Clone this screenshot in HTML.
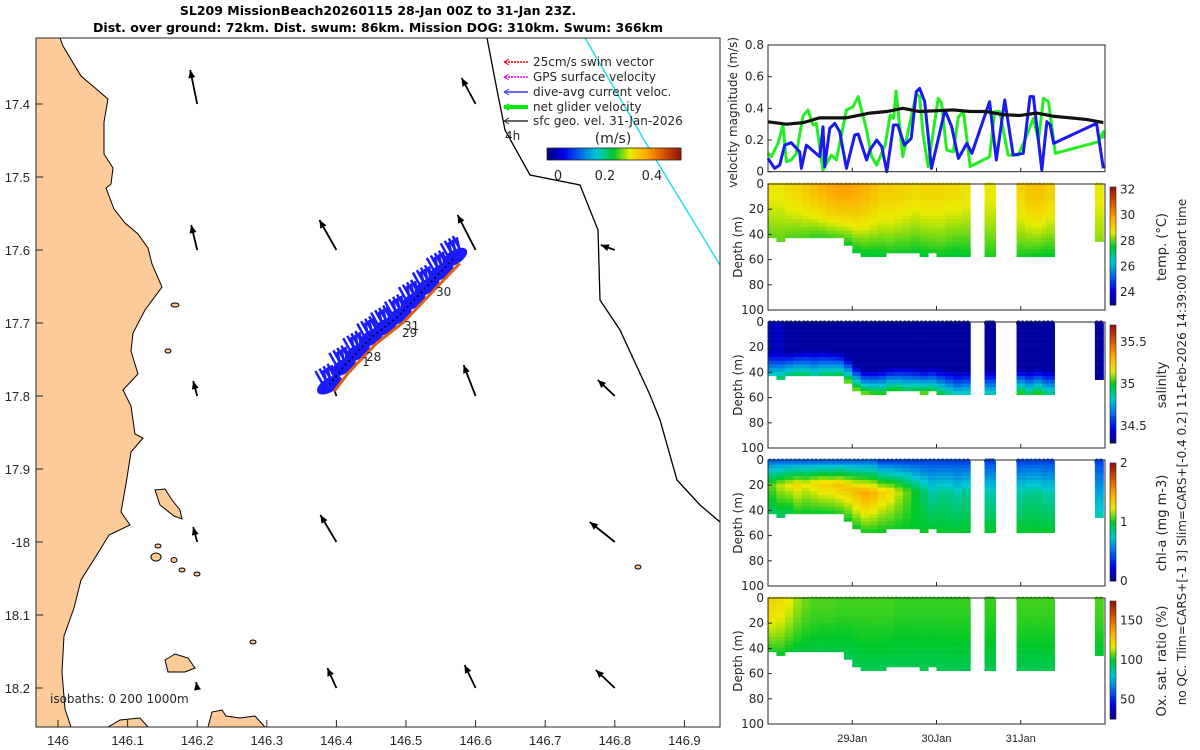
<!DOCTYPE html>
<html><head><meta charset="utf-8">
<style>
body{margin:0;background:#fff;}
svg{display:block;font-family:"DejaVu Sans","Liberation Sans",sans-serif;}
.t{font-size:12px;fill:#262626;}
</style></head>
<body>
<svg id="fig" width="1200" height="750" viewBox="0 0 1200 750">
<defs></defs>
<text x="378" y="15" text-anchor="middle" font-weight="bold" font-size="12.5">SL209 MissionBeach20260115 28-Jan 00Z to 31-Jan 23Z.</text>
<text x="378" y="32" text-anchor="middle" font-weight="bold" font-size="12.5">Dist. over ground: 72km. Dist. swum: 86km. Mission DOG: 310km. Swum: 366km</text>
<g id="map">
<rect x="36" y="38" width="684" height="689" fill="#fff"/>
<polygon fill="#fccb99" stroke="#000" stroke-width="1" points="36,38 60,38 63,46 81,76 108,99 104,122 104,154 113,168 111,184 106,188 114,209 125,223 138,234 148,248 152,264 162,287 145,310 133,333 131,351 138,374 123,390 131,406 135,434 143,438 131,452 126,484 121,512 130,525 109,535 98,553 81,580 74,608 64,636 62,672 65,709 71,727 36,727"/>
<g fill="#fccb99" stroke="#000" stroke-width="1">
<polygon points="155,490 165,489 172,500 180,510 182,519 174,516 160,505"/>
<polygon points="165,660 175,654 188,658 195,668 185,672 168,672"/>
<polygon points="108,727 120,720 140,718 148,727"/>
<polygon points="208,727 212,712 222,710 226,716 240,718 255,716 265,727"/>
<ellipse cx="175" cy="305" rx="4" ry="2"/>
<ellipse cx="168" cy="351" rx="3" ry="2"/>
<ellipse cx="158" cy="546" rx="3" ry="2"/>
<ellipse cx="156" cy="557" rx="5" ry="4"/>
<ellipse cx="174" cy="560" rx="3" ry="2.5"/>
<ellipse cx="182" cy="570" rx="3" ry="2"/>
<ellipse cx="197" cy="574" rx="3" ry="2"/>
<ellipse cx="253" cy="642" rx="3" ry="2"/>
<ellipse cx="638" cy="567" rx="3" ry="2"/>
</g>
<polyline fill="none" stroke="#000" stroke-width="1.3" points="487,38 497,90 505,130 530,175 580,185 598,230 600,300 620,330 650,395 660,420 677,480 700,505 720,522"/>
<polyline fill="none" stroke="#22e0e8" stroke-width="1.5" points="585,38 650,150 720,265"/>
<g id="currents"></g>
<g id="track"></g>
<text x="505" y="140" class="t">4h</text>
<text x="436" y="296" class="t">30</text>
<text x="404" y="330" class="t">31</text>
<text x="402" y="337" class="t">29</text>
<text x="366" y="361" class="t">28</text>
<text x="362" y="366" class="t">1</text>
<text x="50" y="703" class="t">isobaths: 0    200  1000m</text>
<g>
<line x1="528" y1="62" x2="504" y2="62" stroke="#f00" stroke-dasharray="2,1" stroke-width="1.5"/><path d="M504,62 l5,-3 m-5,3 l5,3" stroke="#f00" fill="none"/>
<text x="533" y="66" class="t">25cm/s swim vector</text>
<line x1="528" y1="77" x2="504" y2="77" stroke="#f0f" stroke-dasharray="2,1" stroke-width="1.5"/><path d="M504,77 l5,-3 m-5,3 l5,3" stroke="#f0f" fill="none"/>
<text x="533" y="81" class="t">GPS surface velocity</text>
<line x1="528" y1="92" x2="504" y2="92" stroke="#33f" stroke-width="1.5"/><path d="M504,92 l5,-3 m-5,3 l5,3" stroke="#33f" fill="none"/>
<text x="533" y="96" class="t">dive-avg current veloc.</text>
<line x1="528" y1="107" x2="504" y2="107" stroke="#0e0" stroke-width="4"/><path d="M503,107 l6,-4 v8z" fill="#0e0"/>
<text x="533" y="111" class="t">net glider velocity</text>
<line x1="528" y1="121" x2="504" y2="121" stroke="#333" stroke-width="1.5"/><path d="M504,121 l5,-3 m-5,3 l5,3" stroke="#333" fill="none"/>
<text x="533" y="125" class="t">sfc geo. vel. 31-Jan-2026</text>
</g>
<text x="613" y="143" font-size="14" text-anchor="middle" fill="#262626">(m/s)</text>
<g id="speedcb"></g>
<rect x="36" y="38" width="684" height="689" fill="none" stroke="#262626" stroke-width="1"/>
<g id="mapticks"></g>
</g>
<g id="right"></g>
<text transform="translate(1186,452) rotate(-90)" text-anchor="middle" font-size="12" fill="#262626">no QC. Tlim=CARS+[-1 3] Slim=CARS+[-0.4 0.2] 11-Feb-2026 14:39:00 Hobart time</text>
</svg>
<script>
// ---- velocity data (days since 28-Jan 00Z, m/s) ----
const blueT=[0,.079,.139,.198,.277,.376,.396,.455,.614,.653,.673,.733,.792,.851,.931,1.03,1.07,1.17,1.21,1.29,1.35,1.41,1.49,1.54,1.62,1.70,1.76,1.80,1.86,1.94,2.10,2.18,2.26,2.36,2.42,2.63,2.71,2.81,2.91,3.03,3.11,3.15,3.25,3.31,3.35,3.39,3.90,3.98];
const blueV=[.084,.021,.042,.168,.183,.126,.021,.168,.095,.284,.032,.274,.305,.253,.021,.232,.238,.074,.137,.2,.158,0,.295,.295,.168,.21,.505,.526,.442,.021,.389,.284,.084,.179,.116,.442,.074,.453,.105,.116,.474,.474,.011,.316,.295,.179,.305,.021];
const greenT=[0,.04,.119,.178,.218,.277,.337,.416,.475,.535,.574,.653,.752,.812,.931,1.01,1.07,1.17,1.23,1.29,1.39,1.45,1.49,1.52,1.60,1.70,1.76,1.80,1.84,1.90,2.02,2.06,2.12,2.20,2.26,2.32,2.40,2.63,2.69,2.75,2.85,2.97,3.05,3.15,3.21,3.27,3.33,3.41,3.92,3.98,3.98];
const greenV=[.116,.095,.179,.295,.063,.074,.116,.352,.389,.295,.305,.011,.105,.074,.389,.41,.474,.263,.095,.042,.168,.358,.337,.509,.095,.347,.495,.474,.242,.032,.463,.432,.137,.126,.347,.379,.032,.095,.379,.379,.105,.105,.2,.337,.2,.463,.442,.116,.189,.253,.21];
const geoT=[0,.22,.42,.61,.93,1.21,1.41,1.6,1.8,2.2,2.4,2.59,2.79,2.99,3.19,3.39,3.78,3.98];
const geoV=[.315,.30,.31,.34,.34,.37,.38,.40,.38,.39,.38,.38,.36,.355,.37,.35,.33,.31];
const velTicks=[0,0.2,0.4,0.6,0.8];
const dayTicks=[1,2,3];
const dayLabels=['29Jan','30Jan','31Jan'];
// ---- profile data ----
const profT=[0,.1,.2,.3,.4,.5,.6,.7,.8,.9,1.0,1.1,1.2,1.3,1.4,1.5,1.6,1.7,1.8,1.9,2.0,2.1,2.2,2.3,2.57,2.6,2.95,3.05,3.15,3.25,3.3,3.88];
const profBottom=[44,45,44,43,42,42,42,43,44,48,54,58,58,57,56,55,55,56,57,56,57,58,59,58,58,58,57,58,57,58,58,46];
const tempSurf=[28.8,28.8,29.0,29.1,29.3,29.5,29.7,29.9,30.0,30.0,29.9,29.7,29.5,29.3,29.3,29.2,29.1,29.0,29.1,29.1,29.1,29.0,29.0,28.9,28.8,28.8,29.1,29.4,29.5,29.4,29.2,28.8];
const tempBot=[28.0,28.0,27.9,27.9,27.9,27.8,27.8,27.8,27.8,27.6,27.5,27.4,27.4,27.5,27.6,27.6,27.6,27.5,27.5,27.6,27.6,27.5,27.4,27.5,27.7,27.7,27.7,27.6,27.6,27.5,27.5,28.2];
const salSurf=[34.4,34.4,34.35,34.35,34.35,34.35,34.35,34.35,34.35,34.35,34.35,34.35,34.35,34.35,34.35,34.35,34.35,34.35,34.35,34.35,34.35,34.35,34.35,34.35,34.35,34.35,34.35,34.35,34.35,34.35,34.35,34.35];
const salBot=[34.9,34.95,35.0,35.0,34.95,34.9,34.95,35.0,35.05,35.1,35.1,35.15,35.1,35.05,35.1,35.05,35.0,35.05,35.1,35.05,35.0,34.95,34.9,34.9,34.9,34.9,35.05,35.0,35.05,35.0,34.95,34.35];
const chlSurf=[.5,.5,.5,.5,.5,.5,.5,.5,.5,.5,.5,.5,.5,.4,.4,.4,.4,.4,.4,.4,.4,.4,.4,.4,.4,.4,.4,.4,.4,.4,.4,.4];
const chlMid=[1.1,1.2,1.25,1.3,1.25,1.3,1.35,1.35,1.4,1.4,1.45,1.5,1.45,1.35,1.3,1.2,1.1,1.0,.9,.8,.85,.85,.8,.85,.8,.8,.8,.85,.85,.8,.8,.6];
const chlBot=[.9,.9,.9,1.0,1.0,1.0,1.0,1.0,1.0,1.0,1.0,1.0,1.0,1.0,1.0,1.0,1.0,1.0,1.0,1.0,1.0,1.0,1.0,1.0,1.0,1.0,1.0,1.0,1.0,1.0,1.0,.8];
const oxSurf=[125,122,118,112,108,106,106,106,105,105,105,105,105,105,105,104,104,104,104,104,104,104,104,104,104,104,105,105,105,105,105,106];
const oxBot=[100,100,98,97,97,97,96,96,96,95,95,95,95,95,95,95,95,95,95,95,95,95,95,95,95,95,95,95,95,95,95,98];
// ---- map data ----
const curLon=[146.2,146.2,146.2,146.2,146.2,146.4,146.4,146.4,146.4,146.6,146.6,146.6,146.6,146.8,146.8,146.8,146.8];
const curLat=[17.4,17.6,17.8,18.0,18.2,17.6,17.8,18.0,18.2,17.4,17.6,17.8,18.2,17.6,17.8,18.0,18.2];
const curU=[-.07,-.06,-.04,-.04,-.01,-.17,-.07,-.16,-.09,-.14,-.18,-.12,-.11,-.14,-.17,-.25,-.19];
const curV=[.34,.25,.15,.15,.06,.30,.21,.27,.20,.26,.35,.31,.23,.05,.16,.20,.18];
const lonTicks=[146,146.1,146.2,146.3,146.4,146.5,146.6,146.7,146.8,146.9];
const latTicks=[17.4,17.5,17.6,17.7,17.8,17.9,18.0,18.1,18.2];
const latLabels=['17.4','17.5','17.6','17.7','17.8','17.9','-18','18.1','18.2'];
const trackLon=[146.39,146.41,146.43,146.45,146.47,146.49,146.51,146.53,146.55,146.57];
const trackLat=[17.785,17.76,17.74,17.72,17.705,17.69,17.67,17.65,17.63,17.61];
const speedTicks=[0,0.2,0.4];

const NS='http://www.w3.org/2000/svg';
function mk(tag,attrs,parent){const e=document.createElementNS(NS,tag);for(const k in attrs)e.setAttribute(k,attrs[k]);parent.appendChild(e);return e;}
const CM=[[0,0,0,130],[0.12,0,0,235],[0.25,0,110,230],[0.37,0,200,210],[0.5,0,200,40],[0.62,235,235,0],[0.75,255,165,0],[0.88,215,80,0],[1,150,20,15]];
function jet(f){f=Math.max(0,Math.min(1,f));for(let i=1;i<CM.length;i++){if(f<=CM[i][0]){const a=CM[i-1],b=CM[i],u=(f-a[0])/(b[0]-a[0]);return `rgb(${Math.round(a[1]+u*(b[1]-a[1]))},${Math.round(a[2]+u*(b[2]-a[2]))},${Math.round(a[3]+u*(b[3]-a[3]))})`;}}return 'rgb(150,20,15)';}
const lonX=lon=>58+(lon-146)*696;
const latY=lat=>104+(lat-17.4)*730;
const RX0=768,RX1=1105;
const tX=t=>RX0+t*(RX1-RX0)/4;

const mt=document.getElementById('mapticks');
lonTicks.forEach((lon,i)=>{
 const l=mk('line',{x1:lonX(lon),x2:lonX(lon),y1:727,y2:720,stroke:'#262626'},mt);
 
 
 const tx=mk('text',{x:lonX(lon),y:745,'text-anchor':'middle','font-size':13,fill:'#262626','font-family':'Liberation Sans, sans-serif'},mt);
 tx.textContent=String(lon);
 
 
});
latTicks.forEach((lat,i)=>{
 const l=mk('line',{x1:36,x2:43,y1:latY(lat),y2:latY(lat),stroke:'#262626'},mt);
 
 
 const tx=mk('text',{x:30,y:latY(lat)+5,'text-anchor':'end','font-size':13,fill:'#262626','font-family':'Liberation Sans, sans-serif'},mt);
 tx.textContent=latLabels[i];
 
 
});
const cg=document.getElementById('currents');
const arrowScale=100;
curLon.forEach((lon,i)=>{
 const x0=lonX(lon),y0=latY(curLat[i]);
 const x1=x0+curU[i]*arrowScale,y1=y0-curV[i]*arrowScale;
 const ang=Math.atan2(y1-y0,x1-x0);
 const g=mk('g',{},cg);
 
 
 mk('line',{x1:x0,y1:y0,x2:x1,y2:y1,stroke:'#000','stroke-width':1.8},g);
 const h=8,w=3.5;
 const bx=x1-h*Math.cos(ang),by=y1-h*Math.sin(ang);
 mk('polygon',{points:`${x1},${y1} ${bx+w*Math.sin(ang)},${by-w*Math.cos(ang)} ${bx-w*Math.sin(ang)},${by+w*Math.cos(ang)}`,fill:'#000'},g);
});
const tg=document.getElementById('track');
trackLon.forEach((lon,i)=>{
 const x=lonX(lon),y=latY(trackLat[i]);
 for(let k=0;k<7;k++){
  const ln=mk('line',{x1:x-4+k*2,y1:y+4-k*1.2,x2:x-14+k*2+(k%2)*6,y2:y-14-k*1.2,stroke:'#1a1aff','stroke-width':2.5},tg);
  
  
 }
 const b=mk('ellipse',{cx:x,cy:y,rx:14,ry:7,fill:'#1a1aff',transform:`rotate(-32 ${x} ${y})`},tg);
 
 
});
{
 const pts=trackLon.map((lon,i)=>`${lonX(lon)+5},${latY(trackLat[i])+6}`).join(' ');
 const o=mk('polyline',{points:pts,fill:'none',stroke:'#e06010','stroke-width':3},tg);
 
 
 const p2=trackLon.map((lon,i)=>`${lonX(lon)},${latY(trackLat[i])}`).join(' ');
 const k=mk('polyline',{points:p2,fill:'none',stroke:'#000','stroke-width':1.5,'stroke-dasharray':'2,3'},tg);
 
 
}
const sc=document.getElementById('speedcb');
const sX=v=>558+v*235;
for(let i=0;i<64;i++){
 const r=mk('rect',{x:547+i*134/64,y:148,width:134/64+0.5,height:12,fill:jet(i/63)},sc);
 
 
}
mk('rect',{x:547,y:148,width:134,height:12,fill:'none',stroke:'#262626','stroke-width':0.8},sc);
speedTicks.forEach(v=>{
 const tx=mk('text',{x:sX(v),y:180,'text-anchor':'middle','font-size':13,fill:'#262626'},sc);
 tx.textContent=String(v);
 
 
});

const R=document.getElementById('right');
function frame(y0,h,name){
 const f=mk('rect',{x:RX0,y:y0,width:RX1-RX0,height:h,fill:'none',stroke:'#262626','stroke-width':1},R);
 
 
 dayTicks.forEach(d=>{mk('line',{x1:tX(d),x2:tX(d),y1:y0+h,y2:y0+h-4,stroke:'#262626'},R);});
}
const VY0=45,VY1=171.7;
const vY=v=>VY1-v/0.8*(VY1-VY0);
velTicks.forEach(v=>{
 const tx=mk('text',{x:RX0-4,y:vY(v)+4,'text-anchor':'end','font-size':12,fill:'#262626'},R);
 tx.textContent=String(v);
 
 
 mk('line',{x1:RX0,x2:RX0+4,y1:vY(v),y2:vY(v),stroke:'#262626'},R);
});
function series(T,V,color,w,name){
 const p=mk('polyline',{points:T.map((t,i)=>`${tX(t)},${vY(V[i])}`).join(' '),fill:'none',stroke:color,'stroke-width':w,'stroke-linejoin':'round'},R);
 
 
}
series(greenT,greenV,'#22ee22',3,'net-glider-speed-line');
series(blueT,blueV,'#1a1aee',3,'dive-avg-speed-line');
series(geoT,geoV,'#111',3.2,'geostrophic-speed-line');
frame(VY0,VY1-VY0,'velocity-axes');
{const tx=mk('text',{transform:`translate(737,${(VY0+VY1)/2+4}) rotate(-90)`,'text-anchor':'middle','font-size':12,fill:'#262626'},R);
tx.textContent='velocity magnitude (m/s)';

}

const depthTicks=[0,20,40,60,80,100];
function profilePanel(y0,surf,mid,bot,range,cbTicks,cbTitle,name,kind){
 const h=126;
 const dY=d=>y0+d/100*h;
 const f=v=>(v-range[0])/(range[1]-range[0]);
 profT.forEach((t,i)=>{
  const x=tX(t),w=0.1*(RX1-RX0)/4+0.5;
  const B=profBottom[i];
  const g=mk('g',{},R);
  
  
  for(let d=2;d<B;d+=3){
   const fr=d/B;let v;
   if(kind==='sal'){const c=Math.max(0,(d-(B-20))/20);v=surf[i]+(bot[i]-surf[i])*c;}
   else if(kind==='chl'){v=fr<0.45?surf[i]+(mid[i]-surf[i])*(fr/0.45):mid[i]+(bot[i]-mid[i])*((fr-0.45)/0.55);}
   else {v=surf[i]+(bot[i]-surf[i])*Math.pow(fr,1.5);}
   mk('rect',{x:x,y:dY(d)-1.5,width:w,height:4,fill:jet(f(v))},g);
  }
  const dot=mk('circle',{cx:x+2,cy:y0+1,r:2.5,fill:jet(f(surf[i]))},R);
  
  
  const dot2=mk('circle',{cx:x+6,cy:y0+1,r:2.5,fill:jet(f(surf[i]))},R);
  
  
 });
 depthTicks.forEach(d=>{
  const tx=mk('text',{x:RX0-4,y:dY(d)+4,'text-anchor':'end','font-size':12,fill:'#262626'},R);
  tx.textContent=String(d);
  
  
  mk('line',{x1:RX0,x2:RX0+4,y1:dY(d),y2:dY(d),stroke:'#262626'},R);
 });
 frame(y0,h,name+'-axes');
 const yl=mk('text',{transform:`translate(742,${y0+h/2}) rotate(-90)`,'text-anchor':'middle','font-size':12,fill:'#262626'},R);
 yl.textContent='Depth (m)';
 
 
 const cy0=y0+3,ch=h-8;
 for(let k=0;k<64;k++){
  const r=mk('rect',{x:1110,y:cy0+ch-(k+1)*ch/64,width:6,height:ch/64+0.5,fill:jet(k/63)},R);
  
  
 }
 mk('rect',{x:1110,y:cy0,width:6,height:ch,fill:'none',stroke:'#262626','stroke-width':0.6},R);
 cbTicks.forEach(v=>{
  const yy=cy0+ch-f(v)*ch;
  const tx=mk('text',{x:1120,y:yy+4,'font-size':12,fill:'#262626'},R);
  tx.textContent=String(v);
  
  
 });
 const ct=mk('text',{transform:`translate(1166,${y0+h/2}) rotate(-90)`,'text-anchor':'middle','font-size':13,fill:'#262626'},R);
 ct.textContent=cbTitle;
 
 
}
profilePanel(184,tempSurf,null,tempBot,[23,32.2],[24,26,28,30,32],'temp. (°C)','temperature','temp');
profilePanel(322,salSurf,null,salBot,[34.3,35.7],[34.5,35,35.5],'salinity','salinity','sal');
profilePanel(460,chlSurf,chlMid,chlBot,[0,2],[0,1,2],'chl-a (mg m-3)','chlorophyll','chl');
profilePanel(598,oxSurf,null,oxBot,[25,175],[50,100,150],'Ox. sat. ratio (%)','oxygen','ox');
dayTicks.forEach((d,i)=>{
 const tx=mk('text',{x:tX(d),y:742,'text-anchor':'middle','font-size':11,fill:'#262626','font-family':'Liberation Sans Narrow, Liberation Sans, sans-serif'},R);
 tx.textContent=dayLabels[i];
 
 
});
</script>
</body></html>
